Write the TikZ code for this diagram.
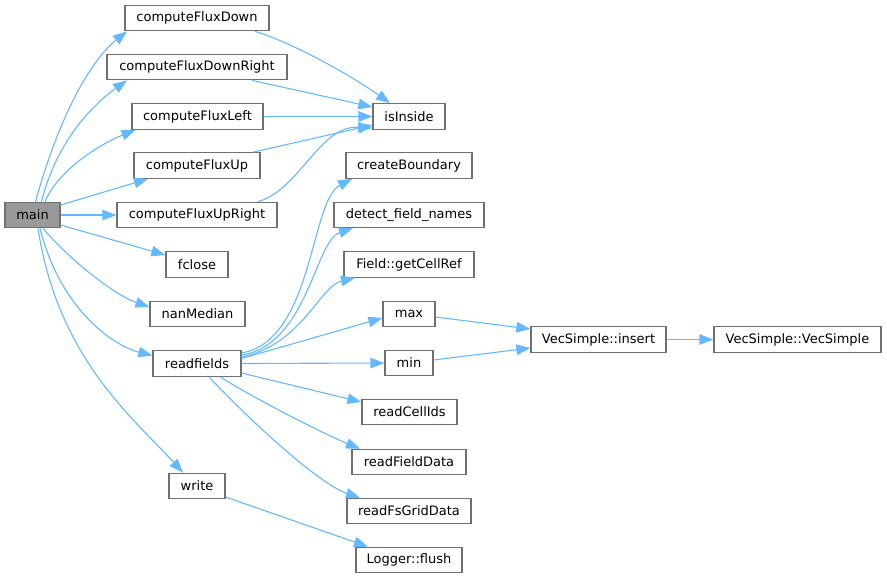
\documentclass[tikz,border=0pt]{standalone}
\usepackage{fontspec}
\setmainfont{DejaVu Sans}
\usetikzlibrary{arrows.meta}
\definecolor{edgeblue}{HTML}{63B8FF}
\definecolor{boxgray}{HTML}{707070}
\definecolor{mainfill}{HTML}{999999}
\begin{document}
\begin{tikzpicture}[x=1pt,y=-1pt,
  fn/.style={draw=boxgray,line width=1.2pt,fill=white,minimum height=25.5pt,inner sep=0pt,
    font=\fontsize{13}{15}\selectfont,text=black},
  call/.style={draw=edgeblue,line width=1.1pt,-{Triangle[length=14pt,width=10.5pt]}}]
\useasboundingbox (0,0) rectangle (887,579);
% nodes
\node[fn,fill=mainfill,minimum width=55pt] (main) at (32.5,215) {main};
\node[fn,minimum width=144pt] (cfd) at (197,18) {computeFluxDown};
\node[fn,minimum width=180pt] (cfdr) at (197,67) {computeFluxDownRight};
\node[fn,minimum width=131pt] (cfl) at (197.5,116.5) {computeFluxLeft};
\node[fn,minimum width=126pt] (cfu) at (197,165.5) {computeFluxUp};
\node[fn,minimum width=160pt] (cfur) at (197,215) {computeFluxUpRight};
\node[fn,minimum width=62pt] (fclose) at (197,264.5) {fclose};
\node[fn,minimum width=95pt] (nanmed) at (197.5,314) {nanMedian};
\node[fn,minimum width=88pt] (readf) at (197,363.5) {readfields};
\node[fn,minimum width=56pt] (write) at (197,486) {write};
\node[fn,minimum width=72pt] (isin) at (409,116.5) {isInside};
\node[fn,minimum width=126pt] (cb) at (409,165.5) {createBoundary};
\node[fn,minimum width=150pt] (dfn) at (409,215) {detect\_field\_names};
\node[fn,minimum width=130pt] (gcr) at (409,264.5) {Field::getCellRef};
\node[fn,minimum width=52pt] (max) at (409,314) {max};
\node[fn,minimum width=48pt] (min) at (409,363) {min};
\node[fn,minimum width=95pt] (rci) at (409.5,412) {readCellIds};
\node[fn,minimum width=114pt] (rfd) at (409,462) {readFieldData};
\node[fn,minimum width=124pt] (rfs) at (409,511) {readFsGridData};
\node[fn,minimum width=106pt] (flush) at (409,560) {Logger::flush};
\node[fn,minimum width=135pt] (ins) at (598.5,339.5) {VecSimple::insert};
\node[fn,minimum width=167pt] (vs) at (797.5,339.5) {VecSimple::VecSimple};
% edges from main
\draw[call] ([xshift=3pt]main.north) .. controls +(25,-90) and +(-35,28) .. ([xshift=-70pt]cfd.south);
\draw[call] ([xshift=9pt]main.north) .. controls +(15,-60) and +(-35,25) .. ([xshift=-70pt]cfdr.south);
\draw[call] ([xshift=12.5pt]main.north) .. controls +(15,-35) and +(-30,12) .. ([xshift=-62pt]cfl.south);
\draw[call] ([yshift=10pt]main.east) -- ([xshift=-49pt]cfu.south);
\draw[call] (main.east) -- (cfur.west);
\draw[call] ([yshift=-10pt]main.east) -- ([yshift=9.5pt]fclose.west);
\draw[call] ([xshift=10.5pt]main.south) .. controls +(25,30) and +(-35,-12) .. ([yshift=7pt]nanmed.west);
\draw[call] ([xshift=7.5pt]main.south) .. controls +(20,80) and +(-40,-10) .. ([yshift=8pt]readf.west);
\draw[call] ([xshift=5.5pt]main.south) .. controls +(20,130) and +(-50,-55) .. ([xshift=-14pt]write.north);
% to isInside
\draw[call] ([xshift=58pt]cfd.south) .. controls +(40,12) and +(-35,-25) .. ([xshift=-19pt]isin.north);
\draw[call] ([xshift=55pt]cfdr.south) -- ([yshift=9.5pt]isin.west);
\draw[call] (cfl.east) -- (isin.west);
\draw[call] ([xshift=56pt]cfu.north) -- ([yshift=-8.5pt]isin.west);
\draw[call] ([xshift=61pt]cfur.north) .. controls +(42,-12) and +(-53,-3) .. ([yshift=-11.5pt]isin.west);
% from readfields
\draw[call] ([yshift=10.5pt]readf.east) .. controls +(72,-13) and +(-42,22) .. ([xshift=-57pt]cb.south);
\draw[call] ([yshift=8.5pt]readf.east) .. controls +(66,-10) and +(-38,12) .. ([xshift=-56pt]dfn.south);
\draw[call] ([yshift=6.5pt]readf.east) .. controls +(60,-12) and +(-35,8) .. ([xshift=-54pt]gcr.south);
\draw[call] ([yshift=5pt]readf.east) -- ([yshift=-4pt]max.west);
\draw[call] (readf.east) -- (min.west);
\draw[call] ([yshift=-9.5pt]readf.east) -- ([yshift=10pt]rci.west);
\draw[call] ([xshift=23pt]readf.south) .. controls +(40,25) and +(-30,-12) .. ([xshift=-49pt]rfd.north);
\draw[call] ([xshift=12pt]readf.south) .. controls +(41,44) and +(-40,-13) .. ([xshift=-49pt]rfs.north);
% others
\draw[call] ([yshift=-3pt]max.east) -- ([yshift=10.5pt]ins.west);
\draw[call] ([yshift=3pt]min.east) -- ([yshift=-8.5pt]ins.west);
\draw[call] (ins.east) -- (vs.west);
\draw[call] ([yshift=-11pt]write.east) -- ([xshift=-41pt]flush.north);
\end{tikzpicture}
\end{document}
